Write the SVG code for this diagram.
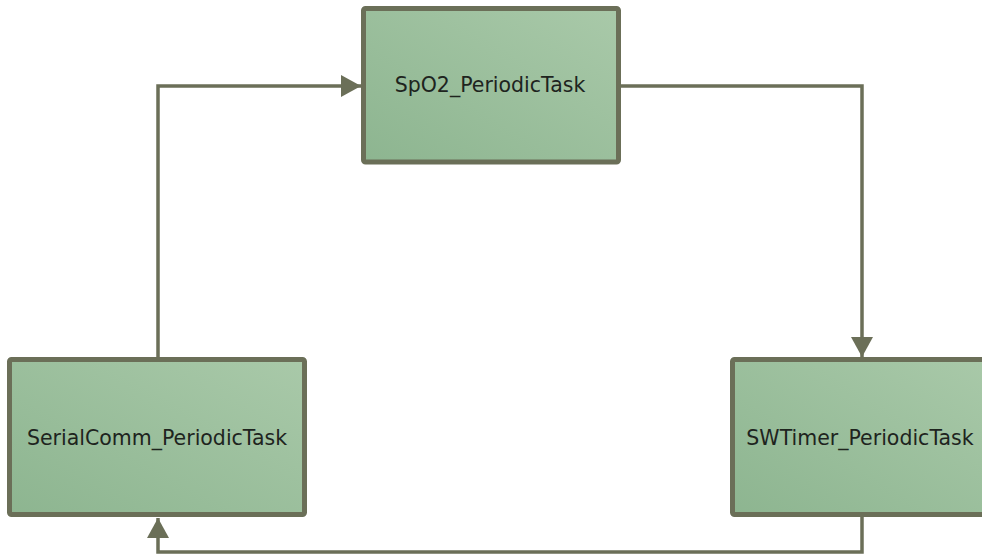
<svg xmlns="http://www.w3.org/2000/svg" width="982" height="557" viewBox="0 0 982 557">
<defs>
<linearGradient id="g" x1="0" y1="1" x2="1" y2="0">
<stop offset="0" stop-color="#8db590"/>
<stop offset="1" stop-color="#a9c9a9"/>
</linearGradient>
<marker id="arr" markerUnits="userSpaceOnUse" markerWidth="22" markerHeight="22" refX="20" refY="11" orient="auto">
<path d="M0,0 L20,11 L0,22 Z" fill="#6b6f58"/>
</marker>
<style>
.box{fill:url(#g);stroke:#6b6f58;stroke-width:5;}
.lbl{font-family:"DejaVu Sans","Liberation Sans",sans-serif;font-size:20.5px;fill:#1e241e;text-anchor:middle;}
.con{fill:none;stroke:#6b6f58;stroke-width:3.5;}
</style>
</defs>
<rect width="982" height="557" fill="#ffffff"/>
<g id="connectors">
<path class="con" d="M158,359 L158,86 L361,86" marker-end="url(#arr)"/>
<path class="con" d="M620,86 L862,86 L862,357" marker-end="url(#arr)"/>
<path class="con" d="M862,517 L862,552 L158,552 L158,518" marker-end="url(#arr)"/>
</g>
<g id="spo2">
<rect class="box" x="363.5" y="8.5" width="255" height="153.5" rx="2"/>
<text class="lbl" x="490" y="92">SpO2_PeriodicTask</text>
</g>
<g id="serialcomm">
<rect class="box" x="9.5" y="359.5" width="295" height="155" rx="2"/>
<text class="lbl" x="157" y="445">SerialComm_PeriodicTask</text>
</g>
<g id="swtimer">
<rect class="box" x="732.5" y="359.5" width="258" height="155" rx="2"/>
<text class="lbl" x="860" y="445">SWTimer_PeriodicTask</text>
</g>
</svg>
